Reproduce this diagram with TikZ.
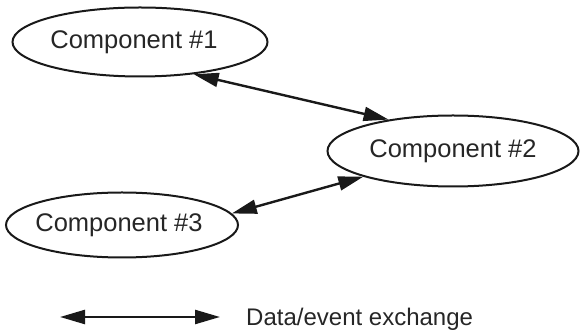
\documentclass[tikz,border=0pt]{standalone}
\usepackage{fontspec}
\setmainfont{Liberation Sans}
\usetikzlibrary{shapes.geometric,arrows.meta}
\tikzset{
  comp/.style={draw=black!90, ellipse, line width=2pt, inner sep=0pt,
    font=\fontsize{25.5}{29}\selectfont, text=black!85},
  xchg/.style={draw=black!90, line width=2.4pt, {Triangle[length=25pt,width=14pt]}-{Triangle[length=25pt,width=14pt]}}
}
\begin{document}
\begin{tikzpicture}[x=1pt,y=-1pt]
\useasboundingbox (0,0) rectangle (581,336);
\node[comp, minimum width=255pt, minimum height=69pt] (c1) at (140,42) {\hspace*{-12pt}Component \#1};
\node[comp, minimum width=251pt, minimum height=71pt] (c2) at (453,151) {Component \#2};
\node[comp, minimum width=232pt, minimum height=65pt] (c3) at (122,225) {\hspace*{-6pt}Component \#3};
\draw[xchg] (c1.-31) -- (c2.154);
\draw[xchg] (c3.6.7) -- (c2.196);
\coordinate (l1) at (60,317);
\coordinate (l2) at (220,317);
\draw[xchg] (l1) -- (l2);
\node[anchor=west, inner sep=0pt, font=\fontsize{24}{28}\selectfont, text=black!85] (leg) at (246,319) {Data/event exchange};
\end{tikzpicture}
\end{document}
